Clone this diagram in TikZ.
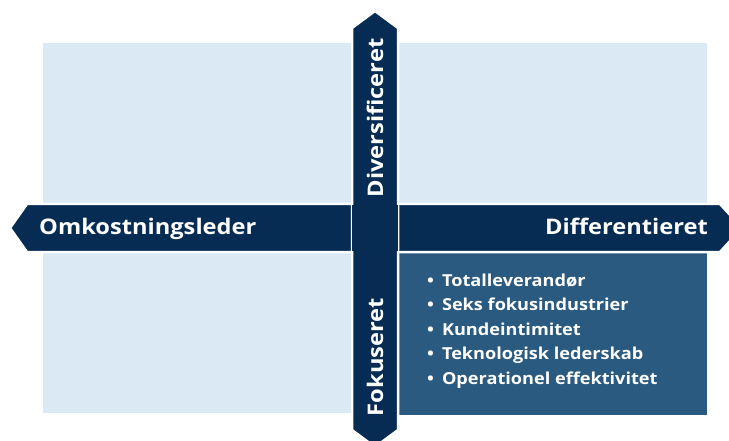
\documentclass[tikz,border=0pt]{standalone}
\usepackage{fontspec}
\setmainfont{Open Sans}[FakeStretch=1.1]
\definecolor{quadfill}{HTML}{DAE9F3}
\definecolor{navy}{HTML}{062C54}
\definecolor{boxblue}{HTML}{2A5A80}
\begin{document}
\begin{tikzpicture}[x=1pt,y=-1pt,
  quad/.style={fill=quadfill},
  focusbox/.style={fill=boxblue},
  axisbar/.style={fill=navy,draw=white,line width=2.5pt,line join=miter},
  axislabel/.style={text=white,font=\bfseries\fontsize{21.5}{24}\selectfont,inner sep=0pt},
  item/.style={text=white,font=\bfseries\fontsize{16.5}{20}\selectfont,inner sep=0pt,anchor=base west}]
\useasboundingbox (0,0) rectangle (729,441);
\clip (0,0) rectangle (729,441);
% quadrant background
\fill[quad] (43,43) rectangle (707,413);
% highlighted lower-right quadrant
\fill[focusbox] (398,253) rectangle (707,415);
% horizontal axis
\draw[axisbar] (10,228) -- (27,204) -- (720,204) -- (742,228) -- (720,252) -- (27,252) -- cycle;
% vertical axis
\draw[axisbar] (375,11) -- (398,28) -- (398,430) -- (375,447) -- (352,430) -- (352,28) -- cycle;
\fill[navy] (352,205.5) rectangle (398,250.5);
% axis labels
\node[axislabel,anchor=base west] (cost) at (39,234.5) {Omkostningsleder};
\node[axislabel,anchor=base east] (diff) at (708,234.5) {Differentieret};
\node[axislabel,rotate=90] (div) at (375,118) {Diversificeret};
\node[axislabel,rotate=90] (fok) at (375,357) {Fokuseret};
% strategy items
\node[item] (i1) at (427,286) {•\hspace{8pt}Totalleverandør};
\node[item] (i2) at (427,310.5) {•\hspace{8pt}Seks fokusindustrier};
\node[item] (i3) at (427,335) {•\hspace{8pt}Kundeintimitet};
\node[item] (i4) at (427,359.5) {•\hspace{8pt}Teknologisk lederskab};
\node[item] (i5) at (427,384) {•\hspace{8pt}Operationel effektivitet};
\end{tikzpicture}
\end{document}
